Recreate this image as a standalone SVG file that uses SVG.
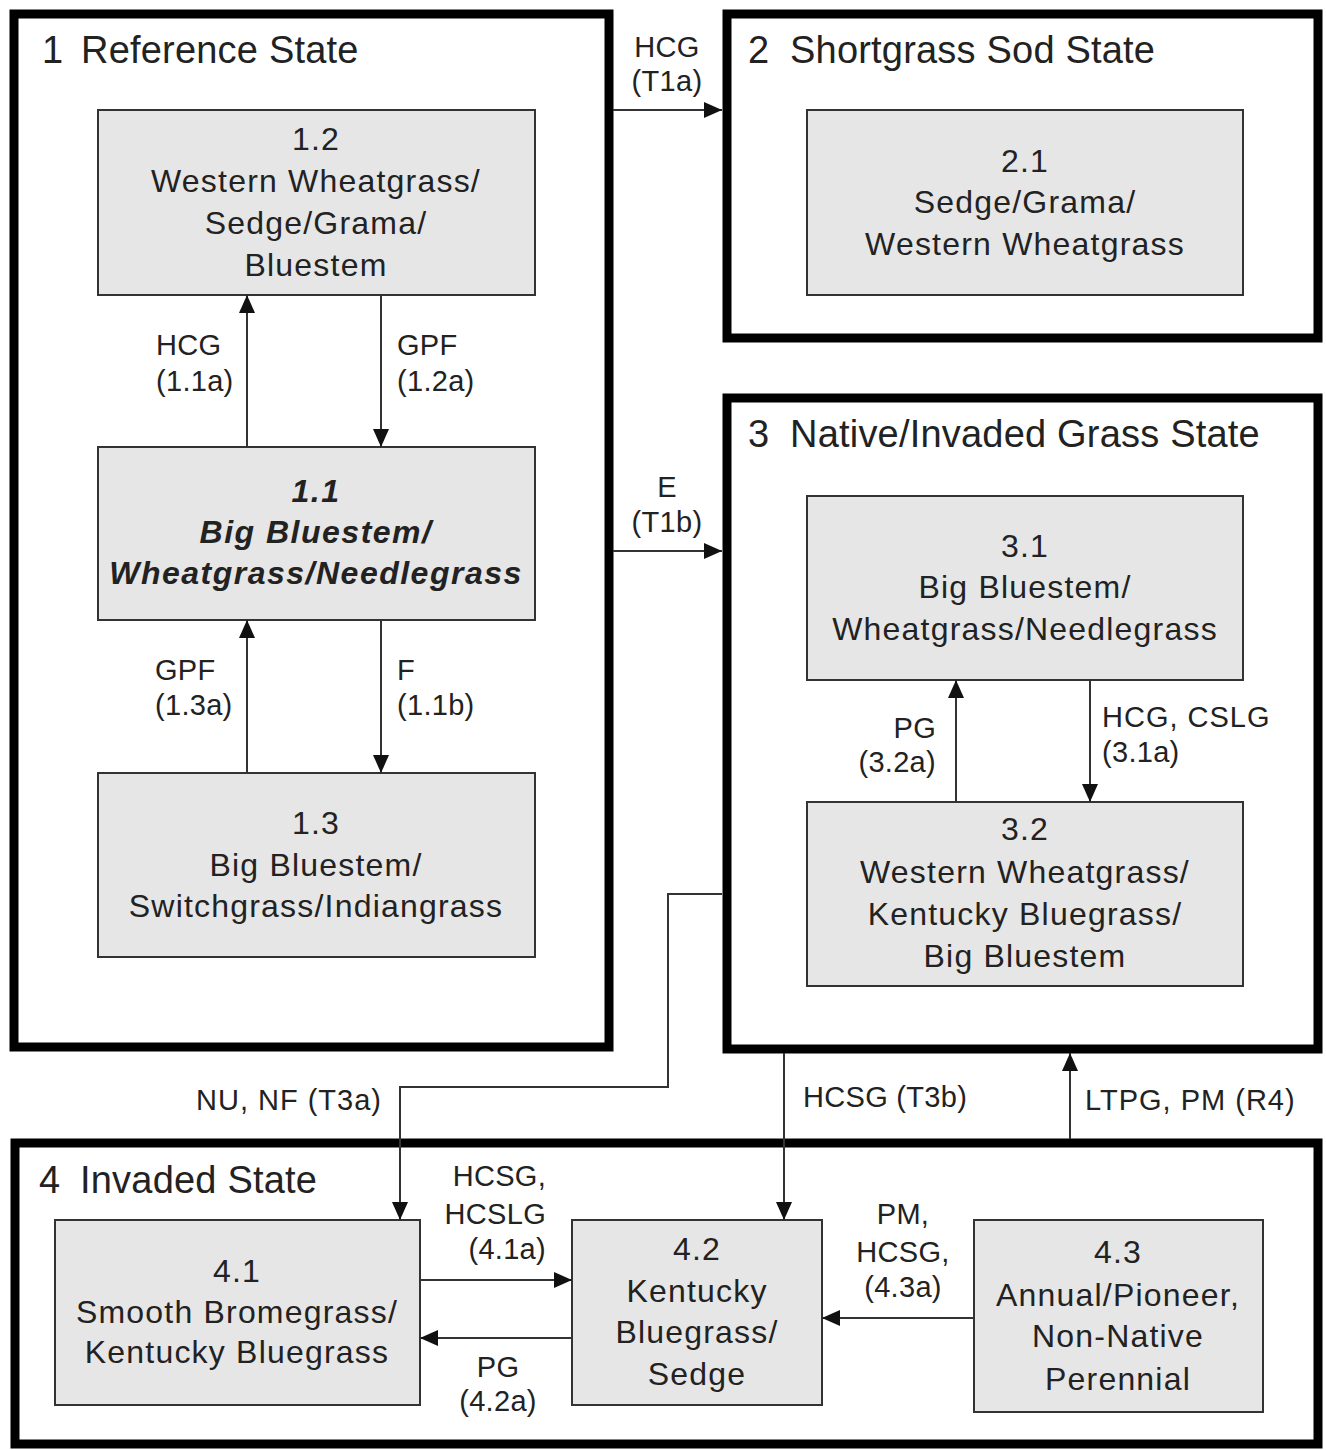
<svg xmlns="http://www.w3.org/2000/svg" width="1326" height="1450" viewBox="0 0 1326 1450">
<defs>
<marker id="ah" markerUnits="userSpaceOnUse" markerWidth="18" markerHeight="16" refX="18" refY="8" orient="auto">
<path d="M0,0 L18,8 L0,16 z" fill="#111"/>
</marker>
<style>
.state{fill:none;stroke:#000;stroke-width:9}
.box{fill:#e6e6e6;stroke:#333;stroke-width:2}
text{font-family:"Liberation Sans",Arial,sans-serif;fill:#222}
.title{font-size:38px;letter-spacing:0.2px}
.bt{font-size:32px;letter-spacing:1.2px;text-anchor:middle}
.bi{font-size:32px;letter-spacing:1.5px;text-anchor:middle;font-weight:bold;font-style:italic}
.lbl{font-size:29px;letter-spacing:0.3px}
.wide{letter-spacing:1px}
.mid{text-anchor:middle}
.end{text-anchor:end}
.conn path{fill:none;stroke:#333;stroke-width:2;marker-end:url(#ah)}
</style>
</defs>
<rect width="1326" height="1450" fill="#fff"/>

<g id="state1">
<rect class="state" x="14" y="14" width="595" height="1033"/>
<text class="title" x="42" y="63">1<tspan x="81">Reference State</tspan></text>
</g>
<g id="state2">
<rect class="state" x="727" y="14" width="591" height="324"/>
<text class="title" x="748" y="63">2<tspan x="790">Shortgrass Sod State</tspan></text>
</g>
<g id="state3">
<rect class="state" x="727" y="398" width="591" height="651"/>
<text class="title" x="748" y="447">3<tspan x="790">Native/Invaded Grass State</tspan></text>
</g>
<g id="state4">
<rect class="state" x="15" y="1143" width="1303" height="301"/>
<text class="title" x="39" y="1193">4<tspan x="80">Invaded State</tspan></text>
</g>

<g id="n1_2">
<rect class="box" x="98" y="110" width="437" height="185"/>
<text class="bt" x="316" y="150">1.2</text>
<text class="bt" x="316" y="192">Western Wheatgrass/</text>
<text class="bt" x="316" y="234">Sedge/Grama/</text>
<text class="bt" x="316" y="276">Bluestem</text>
</g>
<g id="n1_1">
<rect class="box" x="98" y="447" width="437" height="173"/>
<text class="bi" x="316" y="502">1.1</text>
<text class="bi" x="316" y="543">Big Bluestem/</text>
<text class="bi" x="316" y="584">Wheatgrass/Needlegrass</text>
</g>
<g id="n1_3">
<rect class="box" x="98" y="773" width="437" height="184"/>
<text class="bt" x="316" y="834">1.3</text>
<text class="bt" x="316" y="876">Big Bluestem/</text>
<text class="bt" x="316" y="917">Switchgrass/Indiangrass</text>
</g>
<g id="n2_1">
<rect class="box" x="807" y="110" width="436" height="185"/>
<text class="bt" x="1025" y="172">2.1</text>
<text class="bt" x="1025" y="213">Sedge/Grama/</text>
<text class="bt" x="1025" y="255">Western Wheatgrass</text>
</g>
<g id="n3_1">
<rect class="box" x="807" y="496" width="436" height="184"/>
<text class="bt" x="1025" y="557">3.1</text>
<text class="bt" x="1025" y="598">Big Bluestem/</text>
<text class="bt" x="1025" y="640">Wheatgrass/Needlegrass</text>
</g>
<g id="n3_2">
<rect class="box" x="807" y="802" width="436" height="184"/>
<text class="bt" x="1025" y="840">3.2</text>
<text class="bt" x="1025" y="883">Western Wheatgrass/</text>
<text class="bt" x="1025" y="925">Kentucky Bluegrass/</text>
<text class="bt" x="1025" y="967">Big Bluestem</text>
</g>
<g id="n4_1">
<rect class="box" x="55" y="1220" width="365" height="185"/>
<text class="bt" x="237" y="1282">4.1</text>
<text class="bt" x="237" y="1323">Smooth Bromegrass/</text>
<text class="bt" x="237" y="1363">Kentucky Bluegrass</text>
</g>
<g id="n4_2">
<rect class="box" x="572" y="1220" width="250" height="185"/>
<text class="bt" x="697" y="1260">4.2</text>
<text class="bt" x="697" y="1302">Kentucky</text>
<text class="bt" x="697" y="1343">Bluegrass/</text>
<text class="bt" x="697" y="1385">Sedge</text>
</g>
<g id="n4_3">
<rect class="box" x="974" y="1220" width="289" height="192"/>
<text class="bt" x="1118" y="1263">4.3</text>
<text class="bt" x="1118" y="1306">Annual/Pioneer,</text>
<text class="bt" x="1118" y="1347">Non-Native</text>
<text class="bt" x="1118" y="1390">Perennial</text>
</g>

<g id="connectors" class="conn">
<path d="M613,110 H722"/>
<path d="M613,551 H722"/>
<path d="M247,447 V295"/>
<path d="M381,295 V447"/>
<path d="M247,773 V620"/>
<path d="M381,620 V773"/>
<path d="M956,802 V680"/>
<path d="M1090,680 V802"/>
<path d="M722,894 H668 V1087 H400 V1220"/>
<path d="M784,1053 V1220"/>
<path d="M1070,1139 V1053"/>
<path d="M420,1280 H572"/>
<path d="M572,1338 H420"/>
<path d="M974,1318 H822"/>
</g>

<g id="labels">
<text class="lbl mid" x="667" y="57">HCG</text>
<text class="lbl mid" x="667" y="91">(T1a)</text>
<text class="lbl mid" x="667" y="497">E</text>
<text class="lbl mid" x="667" y="532">(T1b)</text>
<text class="lbl" x="156" y="355">HCG</text>
<text class="lbl" x="156" y="391">(1.1a)</text>
<text class="lbl" x="397" y="355">GPF</text>
<text class="lbl" x="397" y="391">(1.2a)</text>
<text class="lbl" x="155" y="680">GPF</text>
<text class="lbl" x="155" y="715">(1.3a)</text>
<text class="lbl" x="397" y="680">F</text>
<text class="lbl" x="397" y="715">(1.1b)</text>
<text class="lbl end" x="936" y="738">PG</text>
<text class="lbl end" x="936" y="772">(3.2a)</text>
<text class="lbl wide" x="1102" y="727">HCG, CSLG</text>
<text class="lbl" x="1102" y="762">(3.1a)</text>
<text class="lbl wide" x="196" y="1110">NU, NF (T3a)</text>
<text class="lbl" x="803" y="1107">HCSG (T3b)</text>
<text class="lbl wide" x="1085" y="1110">LTPG, PM (R4)</text>
<text class="lbl end" x="546" y="1186">HCSG,</text>
<text class="lbl end" x="546" y="1224">HCSLG</text>
<text class="lbl end" x="546" y="1259">(4.1a)</text>
<text class="lbl mid" x="498" y="1377">PG</text>
<text class="lbl mid" x="498" y="1411">(4.2a)</text>
<text class="lbl mid" x="903" y="1224">PM,</text>
<text class="lbl mid" x="903" y="1262">HCSG,</text>
<text class="lbl mid" x="903" y="1297">(4.3a)</text>
</g>
</svg>
